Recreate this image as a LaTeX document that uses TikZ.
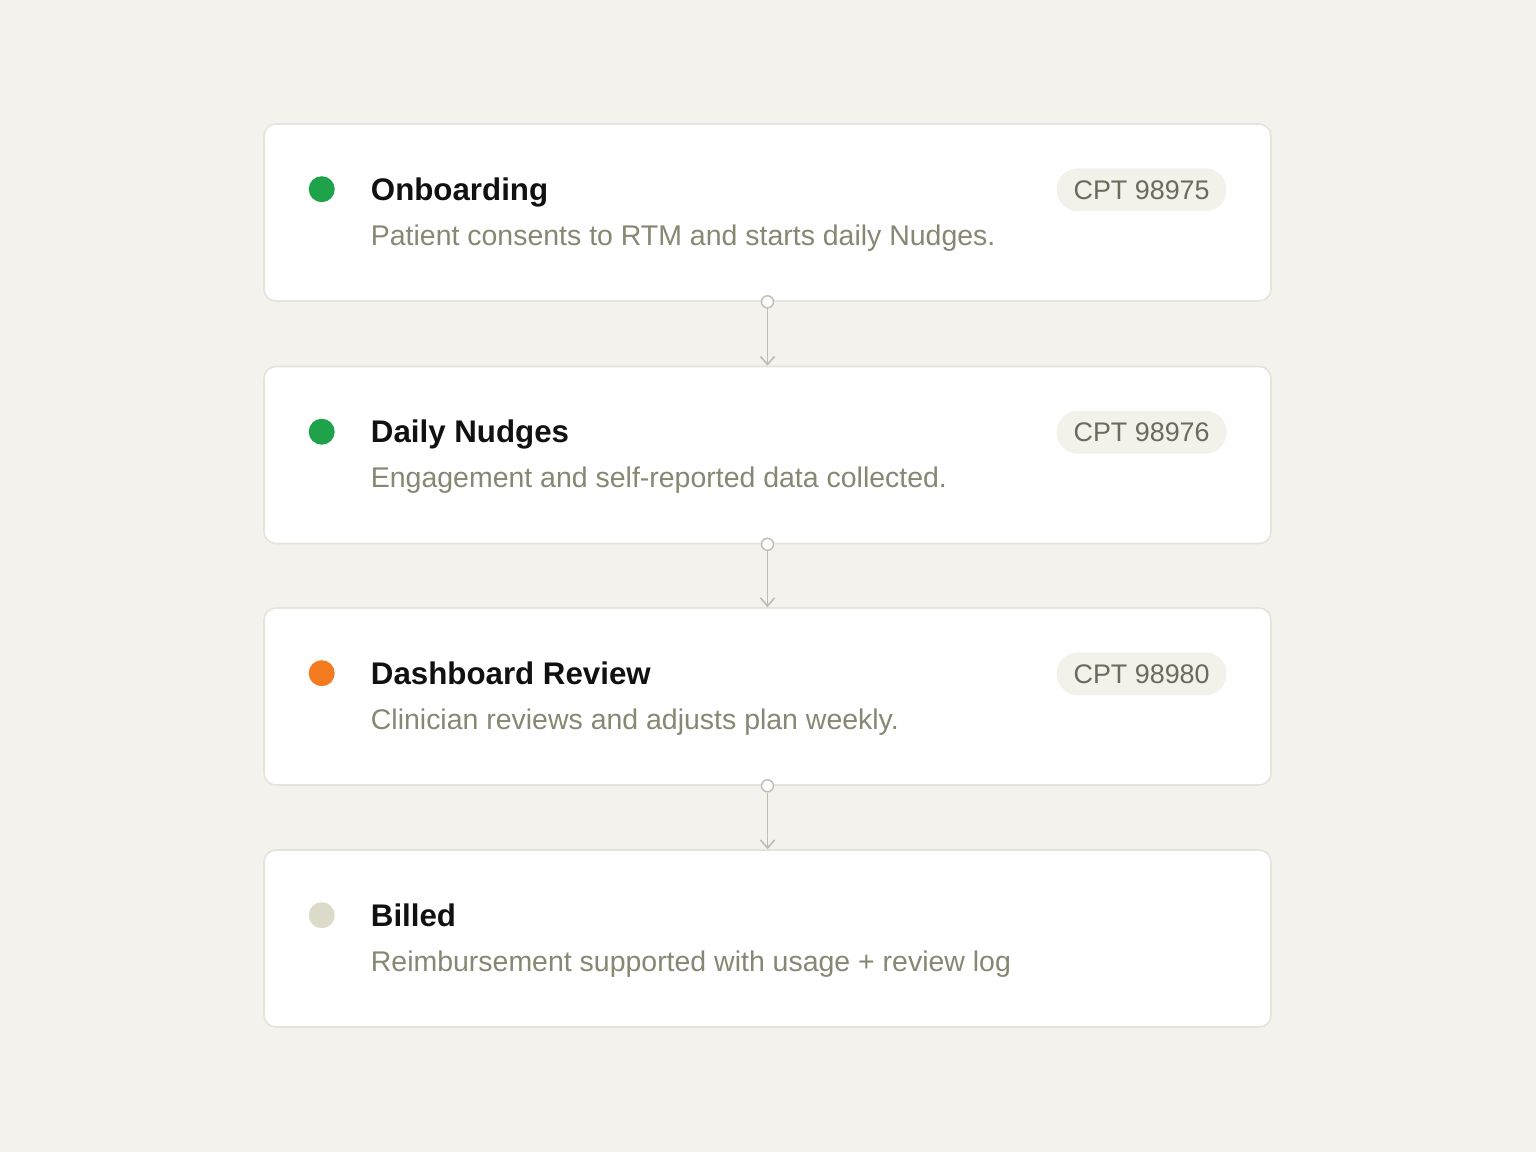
\documentclass[tikz,border=0pt]{standalone}
\usepackage{fontspec}
\setmainfont{Liberation Sans}
\usetikzlibrary{calc,arrows.meta}

\definecolor{bgcol}{HTML}{F3F2EC}
\definecolor{cardline}{HTML}{E6E4DA}
\definecolor{titlecol}{HTML}{111111}
\definecolor{notecol}{HTML}{878773}
\definecolor{badgetext}{HTML}{6B6B5C}
\definecolor{badgefill}{HTML}{F2F1EA}
\definecolor{linkcol}{HTML}{BDBDB2}
\definecolor{okgreen}{HTML}{1FA34A}
\definecolor{warnorange}{HTML}{F47B20}
\definecolor{idlebeige}{HTML}{DCDBCA}

\tikzset{
  card/.style={draw=cardline, line width=0.45pt, fill=white, rounded corners=3.4pt,
    minimum width=10.07cm, minimum height=1.77cm, inner sep=0pt},
  dot/.style={circle, minimum size=0.26cm, inner sep=0pt},
  title/.style={anchor=base west, inner sep=0pt, text=titlecol,
    font=\fontsize{8.9}{10}\selectfont\bfseries},
  note/.style={anchor=base west, inner sep=0pt, text=notecol,
    font=\fontsize{8.1}{9}\selectfont},
  badge/.style={anchor=east, fill=badgefill, text=badgetext, rounded corners=6pt,
    inner xsep=4.8pt, inner ysep=3.4pt, text height=5.4pt, text depth=0pt,
    font=\fontsize{7.65}{9}\selectfont},
  pin/.style={circle, draw=linkcol, fill=white, line width=0.4pt,
    minimum size=0.12cm, inner sep=0pt},
  flow/.style={draw=linkcol, line width=0.45pt,
    -{Straight Barb[length=2.3pt, width=4pt, line width=0.45pt]}}
}

\begin{document}
\begin{tikzpicture}

    % --- Canvas ---
    \fill[bgcol] (0,0) rectangle (15.36,-11.52);
    \useasboundingbox (0,0) rectangle (15.36,-11.52);

    % --- Cards ---
    \node[card] (onb)   at (7.675,-2.125) {};
    \node[card] (daily) at (7.675,-4.55)  {};
    \node[card] (dash)  at (7.675,-6.965) {};
    \node[card] (bill)  at (7.675,-9.385) {};

    % --- Onboarding ---
    \node[dot, fill=okgreen] (onbdot) at ($(onb.north west)+(0.585,-0.66)$) {};
    \node[title] (onbtitle) at ($(onb.north west)+(1.07,-0.77)$) {Onboarding};
    \node[note] (onbnote) at ($(onb.north west)+(1.07,-1.22)$) {Patient consents to RTM and starts daily Nudges.};
    \node[badge] (onbcpt) at ($(onb.north west)+(9.64,-0.665)$) {CPT 98975};

    % --- Daily Nudges ---
    \node[dot, fill=okgreen] (dailydot) at ($(daily.north west)+(0.585,-0.66)$) {};
    \node[title] (dailytitle) at ($(daily.north west)+(1.07,-0.77)$) {Daily Nudges};
    \node[note] (dailynote) at ($(daily.north west)+(1.07,-1.22)$) {Engagement and self-reported data collected.};
    \node[badge] (dailycpt) at ($(daily.north west)+(9.64,-0.665)$) {CPT 98976};

    % --- Dashboard Review ---
    \node[dot, fill=warnorange] (dashdot) at ($(dash.north west)+(0.585,-0.66)$) {};
    \node[title] (dashtitle) at ($(dash.north west)+(1.07,-0.77)$) {Dashboard Review};
    \node[note] (dashnote) at ($(dash.north west)+(1.07,-1.22)$) {Clinician reviews and adjusts plan weekly.};
    \node[badge] (dashcpt) at ($(dash.north west)+(9.64,-0.665)$) {CPT 98980};

    % --- Billed ---
    \node[dot, fill=idlebeige] (billdot) at ($(bill.north west)+(0.585,-0.66)$) {};
    \node[title] (billtitle) at ($(bill.north west)+(1.07,-0.77)$) {Billed};
    \node[note] (billnote) at ($(bill.north west)+(1.07,-1.22)$) {Reimbursement supported with usage + review log};

    % --- Connectors ---
    \node[pin] (p1) at (onb.south) {};
    \node[pin] (p2) at (daily.south) {};
    \node[pin] (p3) at (dash.south) {};
    \draw[flow] (p1) -- (daily.north);
    \draw[flow] (p2) -- (dash.north);
    \draw[flow] (p3) -- (bill.north);

\end{tikzpicture}
\end{document}
